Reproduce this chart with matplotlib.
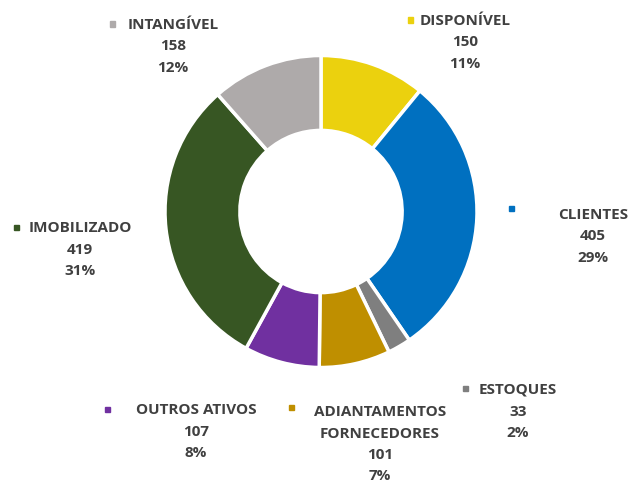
import matplotlib.pyplot as plt

# composição do ativo
categorias = ["DISPONÍVEL", "CLIENTES", "ESTOQUES", "ADIANTAMENTOS\nFORNECEDORES",
              "OUTROS ATIVOS", "IMOBILIZADO", "INTANGÍVEL"]
valores = [150, 405, 33, 101, 107, 419, 158]
percentuais = ["11%", "29%", "2%", "7%", "8%", "31%", "12%"]
cores = ["#EBD10E", "#0070C0", "#7F7F7F", "#BF8F00", "#7030A0", "#375623", "#AEAAAA"]

# posicao dos rotulos em pixels da figura (centro do texto, marcador)
pos_texto = [(465, 21), (593, 215), (518, 390), (380, 412), (196, 410), (80, 228), (173, 25)]
pos_marcador = [(410, 20), (511, 208), (466, 388), (291, 407), (107, 409), (16, 227), (112, 24)]

W, H = 629, 484
plt.rcParams['font.family'] = ['Open Sans', 'DejaVu Sans']

fig = plt.figure(figsize=(W / 100, H / 100), dpi=100)
cx, cy, r = 321, 211.5, 156
ax = fig.add_axes([(cx - r) / W, (H - cy - r) / H, 2 * r / W, 2 * r / H])
ax.pie(valores, colors=cores, startangle=90, counterclock=False, radius=1,
       wedgeprops=dict(width=0.48, edgecolor="white", linewidth=2.5))
ax.set_xlim(-1, 1)
ax.set_ylim(-1, 1)
ax.set_aspect("equal")
ax.axis("off")

cor_texto = "#404040"
passo = 21.5
for cat, v, p, cor, (tx, ty), (mx, my) in zip(categorias, valores, percentuais, cores,
                                               pos_texto, pos_marcador):
    linhas = cat.split("\n") + [str(v), p]
    for i, linha in enumerate(linhas):
        fig.text(tx / W, 1 - (ty + i * passo) / H, linha, ha="center", va="center",
                 fontsize=11, fontweight="bold", color=cor_texto)
    fig.patches.append(plt.Rectangle(((mx - 2.5) / W, 1 - (my + 2.5) / H), 5 / W, 5 / H,
                                     transform=fig.transFigure, color=cor))

fig.savefig("out.png", dpi=100)
